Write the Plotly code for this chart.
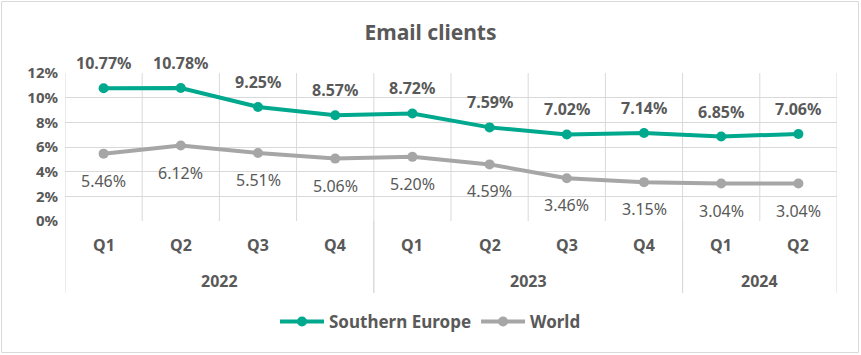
import plotly.graph_objects as go

years = ["2022", "2022", "2022", "2022", "2023", "2023", "2023", "2023", "2024", "2024"]
quarters = ["Q1", "Q2", "Q3", "Q4", "Q1", "Q2", "Q3", "Q4", "Q1", "Q2"]
southern_europe = [10.77, 10.78, 9.25, 8.57, 8.72, 7.59, 7.02, 7.14, 6.85, 7.06]
world = [5.46, 6.12, 5.51, 5.06, 5.20, 4.59, 3.46, 3.15, 3.04, 3.04]

TEAL = "#00A88E"
GRAY = "#A6A6A6"
TXT = "#595959"
GRID = "#D9D9D9"
FONT = "Noto Sans"

W, H = 861, 355
L, R, T, B = 65, 24, 73, 134
pw, ph = W - L - R, H - T - B

x = list(range(len(quarters)))
se = [v / 100 for v in southern_europe]
wo = [v / 100 for v in world]

fig = go.Figure()
fig.add_trace(go.Scatter(x=x, y=se, name="Southern Europe", mode="lines+markers",
                         line=dict(color=TEAL, width=4), marker=dict(size=10, color=TEAL),
                         cliponaxis=False))
fig.add_trace(go.Scatter(x=x, y=wo, name="World", mode="lines+markers",
                         line=dict(color=GRAY, width=4), marker=dict(size=10, color=GRAY),
                         cliponaxis=False))

ann = []
for i, v in enumerate(southern_europe):
    ann.append(dict(x=i, y=se[i], xref="x", yref="y", text=f"{v:.2f}%", showarrow=False,
                    yshift=25, font=dict(family=FONT, size=16, color=TXT, weight="bold")))
for i, v in enumerate(world):
    ann.append(dict(x=i, y=wo[i], xref="x", yref="y", text=f"{v:.2f}%", showarrow=False,
                    yshift=-27, font=dict(family=FONT, size=16, color=TXT)))
for i, q in enumerate(quarters):
    ann.append(dict(x=i, y=0, xref="x", yref="y", text=q, showarrow=False,
                    yshift=-24, font=dict(family=FONT, size=16, color=TXT, weight="bold")))

shapes = []
# vertical gridlines between categories
for i in range(len(quarters) + 1):
    shapes.append(dict(type="line", xref="x", yref="y", x0=i - 0.5, x1=i - 0.5, y0=0, y1=0.12,
                       line=dict(color=GRID, width=1), layer="below"))
# year groups
groups = []
for i, yv in enumerate(years):
    if groups and groups[-1][0] == yv:
        groups[-1][2] = i
    else:
        groups.append([yv, i, i])
for yv, a, b in groups:
    ann.append(dict(x=(a + b) / 2, y=0, xref="x", yref="y", text=yv, showarrow=False,
                    yshift=-60, font=dict(family=FONT, size=16, color=TXT, weight="bold")))
    for edge in (a - 0.5, b + 0.5):
        shapes.append(dict(type="line", xref="x", yref="paper", x0=edge, x1=edge,
                           y0=-72 / ph, y1=0, line=dict(color=GRID, width=1)))

# outer chart border
shapes.append(dict(type="rect", xref="paper", yref="paper",
                   x0=(1.5 - L) / pw, x1=(858.5 - L) / pw,
                   y0=(T + ph - 352.5) / ph, y1=(T + ph - 1.5) / ph,
                   line=dict(color=GRID, width=1), fillcolor="rgba(0,0,0,0)"))

fig.update_layout(
    width=W, height=H,
    margin=dict(l=L, r=R, t=T, b=B),
    paper_bgcolor="white", plot_bgcolor="white",
    font=dict(family=FONT, color=TXT),
    title=dict(text="Email clients", x=0.5, xref="container", xanchor="center",
               y=1 - 33 / H, yref="container", yanchor="middle",
               font=dict(family=FONT, size=21, color=TXT, weight="bold")),
    xaxis=dict(range=[-0.5, len(quarters) - 0.5], showgrid=False, zeroline=False,
               showticklabels=False, showline=False, fixedrange=True),
    yaxis=dict(range=[0, 0.12], dtick=0.02, tickformat=".0%", showgrid=True,
               gridcolor=GRID, gridwidth=1, zeroline=False, showline=False,
               tickfont=dict(family=FONT, size=15, color=TXT, weight="bold"),
               ticklabelstandoff=6),
    legend=dict(orientation="h", x=0.5, xref="container", xanchor="center",
                y=1 - 322 / H, yref="container", yanchor="middle",
                font=dict(family=FONT, size=17, color=TXT, weight="bold"),
                itemwidth=44, traceorder="normal"),
    annotations=ann, shapes=shapes,
)

fig.write_html("out.html", config={"displayModeBar": False},
               post_script="document.body.style.margin='0';")
